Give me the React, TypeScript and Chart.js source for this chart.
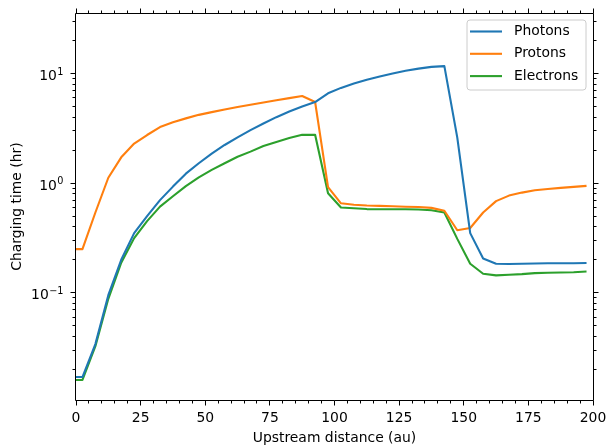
import React, { useEffect, useRef } from 'react';
import { Chart, registerables } from 'chart.js';

Chart.register(...registerables);

// Upstream distance of each sample (au)
const DISTANCE_AU = [
  0, 2.5, 7.5, 12.5, 17.5, 22.5, 27.5, 32.5, 37.5, 42.5, 47.5, 52.5, 57.5, 62.5, 67.5, 72.5,
  77.5, 82.5, 87.5, 92.5, 97.5, 102.5, 107.5, 112.5, 117.5, 122.5, 127.5, 132.5, 137.5, 142.5,
  147.5, 152.5, 157.5, 162.5, 167.5, 172.5, 177.5, 182.5, 187.5, 192.5, 197.5,
];

// Charging time (hr) per charging process
const PHOTONS_HR = [
  0.017, 0.017, 0.034, 0.095, 0.2, 0.35, 0.5, 0.7, 0.93, 1.22, 1.52, 1.86, 2.23, 2.62, 3.05, 3.5,
  4.0, 4.5, 5.0, 5.5, 6.6, 7.4, 8.1, 8.8, 9.4, 10.0, 10.6, 11.1, 11.5, 11.7,
  2.6, 0.35, 0.205, 0.184, 0.183, 0.184, 0.185, 0.186, 0.186, 0.186, 0.187,
];
const PROTONS_HR = [
  0.25, 0.25, 0.54, 1.12, 1.72, 2.3, 2.75, 3.25, 3.6, 3.9, 4.2, 4.45, 4.7, 4.95, 5.2, 5.45,
  5.7, 5.97, 6.25, 5.5, 0.92, 0.655, 0.635, 0.625, 0.62, 0.615, 0.61, 0.605, 0.595, 0.56,
  0.372, 0.39, 0.54, 0.685, 0.77, 0.82, 0.86, 0.885, 0.905, 0.925, 0.945,
];
const ELECTRONS_HR = [
  0.016, 0.016, 0.0325, 0.088, 0.188, 0.315, 0.45, 0.61, 0.76, 0.94, 1.13, 1.32, 1.52, 1.74, 1.94, 2.18,
  2.38, 2.58, 2.76, 2.76, 0.81, 0.6, 0.59, 0.58, 0.578, 0.578, 0.578, 0.575, 0.565, 0.54,
  0.31, 0.184, 0.149, 0.144, 0.146, 0.148, 0.151, 0.152, 0.153, 0.154, 0.156,
];

const SERIES_LABELS = ['Photons', 'Protons', 'Electrons'];
const SERIES_VALUES = [PHOTONS_HR, PROTONS_HR, ELECTRONS_HR];
const SERIES_COLORS = ['#1f77b4', '#ff7f0e', '#2ca02c'];

// Axis ticks and titles
const X_TICKS = [0, 25, 50, 75, 100, 125, 150, 175, 200];
const X_MINOR_STEP = 5;
const Y_DECADES = [0.1, 1, 10];
const Y_DECADE_EXPONENTS = ['\u22121', '0', '1'];
const Y_MINOR = [
  0.02, 0.03, 0.04, 0.05, 0.06, 0.07, 0.08, 0.09,
  0.2, 0.3, 0.4, 0.5, 0.6, 0.7, 0.8, 0.9,
  2, 3, 4, 5, 6, 7, 8, 9,
  20, 30,
];
const X_TITLE = 'Upstream distance (au)';
const Y_TITLE = 'Charging time (hr)';
const X_MIN = 0;
const X_MAX = 200;
const Y_MIN = 0.0105;
const Y_MAX = 35.7;

const FONT_FAMILY = "'DejaVu Sans', sans-serif";
const FONT_PX = 13.9;
const SUP_PX = 9.7;
const MAJOR_LEN = 5;
const MINOR_LEN = 3;

// Frame, outward ticks on all four sides, tick labels, axis titles and the legend box
const framePlugin = {
  id: 'frameTicksLegend',
  afterDraw(chart: any) {
    const { ctx, chartArea: a, scales } = chart;
    const xs = scales.x;
    const ys = scales.y;
    const L = a.left - 0.5;
    const R = a.right + 0.5;
    const T = a.top + 0.5;
    const B = a.bottom + 0.5;
    ctx.save();
    ctx.strokeStyle = '#000';
    ctx.lineWidth = 1;
    ctx.lineCap = 'butt';
    ctx.beginPath();
    ctx.rect(L, T, R - L, B - T);
    ctx.stroke();

    const hTick = (v: number, len: number) => {
      const p = Math.floor(xs.getPixelForValue(v)) + 0.5;
      ctx.moveTo(p, B);
      ctx.lineTo(p, B + len);
      ctx.moveTo(p, T);
      ctx.lineTo(p, T - len);
    };
    const vTick = (v: number, len: number) => {
      const p = Math.floor(ys.getPixelForValue(v)) + 0.5;
      ctx.moveTo(L, p);
      ctx.lineTo(L - len, p);
      ctx.moveTo(R, p);
      ctx.lineTo(R + len, p);
    };
    ctx.beginPath();
    for (let v = X_MIN; v <= X_MAX; v += X_MINOR_STEP) {
      hTick(v, X_TICKS.includes(v) ? MAJOR_LEN : MINOR_LEN);
    }
    Y_DECADES.forEach((v) => vTick(v, MAJOR_LEN));
    Y_MINOR.forEach((v) => vTick(v, MINOR_LEN));
    ctx.stroke();

    // tick labels
    ctx.fillStyle = '#000';
    ctx.font = `${FONT_PX}px ${FONT_FAMILY}`;
    ctx.textBaseline = 'alphabetic';
    ctx.textAlign = 'center';
    X_TICKS.forEach((v) => {
      ctx.fillText(String(v), xs.getPixelForValue(v), a.bottom + 21.5);
    });
    Y_DECADES.forEach((v, i) => {
      const py = ys.getPixelForValue(v);
      const right = a.left - 12.5;
      ctx.font = `${SUP_PX}px ${FONT_FAMILY}`;
      ctx.textAlign = 'right';
      const expW = ctx.measureText(Y_DECADE_EXPONENTS[i]).width;
      ctx.fillText(Y_DECADE_EXPONENTS[i], right, py + 1.2);
      ctx.font = `${FONT_PX}px ${FONT_FAMILY}`;
      ctx.fillText('10', right - expW - 0.5, py + 6.6);
    });

    // axis titles
    ctx.textAlign = 'center';
    ctx.fillText(X_TITLE, (a.left + a.right) / 2, 441.5);
    ctx.save();
    ctx.translate(20.5, (a.top + a.bottom) / 2);
    ctx.rotate(-Math.PI / 2);
    ctx.fillText(Y_TITLE, 0, 0);
    ctx.restore();

    // legend
    const bx = 467, by = 20, bw = 119, bh = 70, r = 3;
    ctx.beginPath();
    ctx.moveTo(bx + r, by);
    ctx.arcTo(bx + bw, by, bx + bw, by + bh, r);
    ctx.arcTo(bx + bw, by + bh, bx, by + bh, r);
    ctx.arcTo(bx, by + bh, bx, by, r);
    ctx.arcTo(bx, by, bx + bw, by, r);
    ctx.closePath();
    ctx.fillStyle = 'rgba(255,255,255,0.8)';
    ctx.fill();
    ctx.strokeStyle = '#cccccc';
    ctx.lineWidth = 1;
    ctx.stroke();

    ctx.font = `${FONT_PX}px ${FONT_FAMILY}`;
    ctx.textBaseline = 'middle';
    ctx.textAlign = 'left';
    chart.data.datasets.forEach((ds: any, i: number) => {
      const ry = 31.5 + i * 22.3;
      ctx.beginPath();
      ctx.strokeStyle = ds.borderColor;
      ctx.lineWidth = 2.1;
      ctx.moveTo(470, ry);
      ctx.lineTo(502, ry);
      ctx.stroke();
      ctx.fillStyle = '#000';
      ctx.fillText(ds.label, 514, ry);
    });
    ctx.restore();
  },
};

export default function App() {
  const canvasRef = useRef<HTMLCanvasElement>(null);

  useEffect(() => {
    const chart = new Chart(canvasRef.current as HTMLCanvasElement, {
      type: 'line',
      data: {
        datasets: SERIES_LABELS.map((label, i) => ({
          label,
          data: DISTANCE_AU.map((x, j) => ({ x, y: SERIES_VALUES[i][j] })),
          borderColor: SERIES_COLORS[i],
          backgroundColor: SERIES_COLORS[i],
          borderWidth: 2.1,
          borderJoinStyle: 'round',
          pointRadius: 0,
          tension: 0,
          fill: false,
        })),
      },
      options: {
        animation: false,
        responsive: false,
        devicePixelRatio: 1,
        layout: { padding: { left: 0, top: 13, right: 18, bottom: 0 } },
        plugins: { legend: { display: false }, tooltip: { enabled: false } },
        scales: {
          x: {
            type: 'linear',
            min: X_MIN,
            max: X_MAX,
            afterBuildTicks: (s: any) => {
              s.ticks = X_TICKS.map((value) => ({ value }));
            },
            afterFit: (s: any) => {
              s.height = 47;
            },
            ticks: { display: false },
            grid: { display: false },
            border: { display: false },
          },
          y: {
            type: 'logarithmic',
            min: Y_MIN,
            max: Y_MAX,
            afterBuildTicks: (s: any) => {
              s.ticks = Y_DECADES.map((value) => ({ value }));
            },
            afterFit: (s: any) => {
              s.width = 76;
            },
            ticks: { display: false },
            grid: { display: false },
            border: { display: false },
          },
        },
      },
      plugins: [framePlugin],
    } as any);
    return () => chart.destroy();
  }, []);

  return (
    <div style={{ position: 'absolute', left: 0, top: 0, width: 611, height: 447, background: '#fff' }}>
      <canvas ref={canvasRef} width={611} height={447} style={{ display: 'block', width: 611, height: 447 }} />
    </div>
  );
}
